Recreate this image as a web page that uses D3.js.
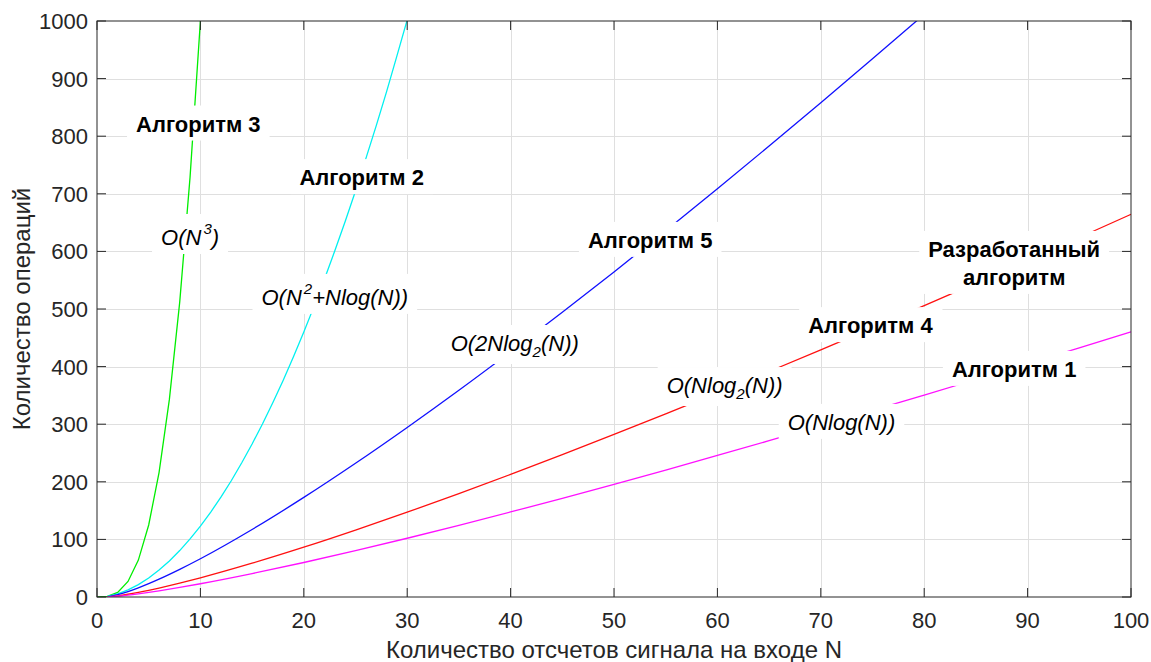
<!DOCTYPE html>
<html>
<head>
<meta charset="utf-8">
<script src="https://cdn.jsdelivr.net/npm/d3@7"></script>
<style>
  body { margin: 0; background: #fff; }
  svg { font-family: "Liberation Sans", Arial, Helvetica, sans-serif; }
</style>
</head>
<body>
<div id="chart"></div>
<script>
// values
const nCube = [0, 1, 2, 3, 4, 5, 6, 7, 8, 9, 10];
const opsCube = [0, 1, 8, 27, 64, 125, 216, 343, 512, 729, 1000];

const nSq = [1, 2, 3, 4, 5, 6, 7, 8, 9, 10, 11, 12, 13, 14, 15, 16, 17, 18, 19, 20,
  21, 22, 23, 24, 25, 26, 27, 28, 29, 30];
const opsSq = [1, 5.4, 12.3, 21.5, 33, 46.8, 62.6, 80.6, 100.8, 123, 147.4, 173.8, 202.3,
  233, 265.6, 300.4, 337.2, 376, 417, 460, 505, 552, 601, 652, 705, 761, 818, 877, 939, 1002];

const nLin = [1, 2, 3, 4, 5, 6, 8, 10, 15, 20, 25, 30, 35, 40, 45, 50, 55, 60, 65, 70,
  75, 80, 85, 90, 95, 100];
const opsAlg5 = [0, 4, 9.5, 16, 23.2, 31, 48, 66.4, 117.2, 172.9, 232.2, 294.4, 359,
  425.8, 494.3, 564.4, 636, 708.8, 782.9, 858.1, 934.4, 1011.5];
const opsAlg4 = [0, 2, 4.75, 8, 11.6, 15.5, 24, 33.2, 58.6, 86.4, 116.1, 147.2, 179.5,
  212.9, 247.1, 282.2, 318, 354.4, 391.5, 429, 467.2, 505.8, 544.8, 584.3, 624.1, 664.4];
const opsAlg1 = [0, 1.39, 3.3, 5.55, 8.05, 10.75, 16.6, 23, 40.6, 59.9, 80.5, 102, 124.4,
  147.6, 171.3, 195.6, 220.4, 245.7, 271.3, 297.4, 323.8, 350.6, 377.6, 405, 432.6, 460.5];

const xTicks = [0, 10, 20, 30, 40, 50, 60, 70, 80, 90, 100];
const yTicks = [0, 100, 200, 300, 400, 500, 600, 700, 800, 900, 1000];

const series = [
  {name: "Алгоритм 3", xs: nCube, ys: opsCube, color: "#00ee00", curve: d3.curveLinear},
  {name: "Алгоритм 2", xs: nSq, ys: opsSq, color: "#00f0f0", curve: d3.curveLinear},
  {name: "Алгоритм 5", xs: nLin.slice(0, opsAlg5.length), ys: opsAlg5, color: "#1010ff", curve: d3.curveMonotoneX},
  {name: "Алгоритм 4", xs: nLin, ys: opsAlg4, color: "#ff1010", curve: d3.curveMonotoneX},
  {name: "Алгоритм 1", xs: nLin, ys: opsAlg1, color: "#ff10ff", curve: d3.curveMonotoneX}
];

// annotations: [text, mode] pieces, anchored at data coords
const notes = [
  {x: 9.8, y: 822, bold: true, lines: [[["Алгоритм 3", ""]]]},
  {x: 9.0, y: 625, bold: false, lines: [[["O(N", ""], ["3", "sup"], [")", ""]]]},
  {x: 25.6, y: 729, bold: true, lines: [[["Алгоритм 2", ""]]]},
  {x: 23.0, y: 521, bold: false, lines: [[["O(N", ""], ["2", "sup"], ["+Nlog(N))", ""]]]},
  {x: 53.5, y: 620, bold: true, lines: [[["Алгоритм 5", ""]]]},
  {x: 40.4, y: 441, bold: false, lines: [[["O(2Nlog", ""], ["2", "sub"], ["(N))", ""]]]},
  {x: 88.7, y: 580, bold: true, lines: [[["Разработанный", ""]], [["алгоритм", ""]]]},
  {x: 74.8, y: 472, bold: true, lines: [[["Алгоритм 4", ""]]]},
  {x: 60.7, y: 368, bold: false, lines: [[["O(Nlog", ""], ["2", "sub"], ["(N))", ""]]]},
  {x: 88.7, y: 396, bold: true, lines: [[["Алгоритм 1", ""]]]},
  {x: 72.0, y: 304, bold: false, lines: [[["O(Nlog(N))", ""]]]}
];

const width = 1151, height = 662;
const margin = {top: 21, right: 20, bottom: 65, left: 97};
const axisColor = "#262626";

const svg = d3.select("#chart").append("svg")
  .attr("width", width)
  .attr("height", height);

const x = d3.scaleLinear().domain([0, 100]).range([margin.left, width - margin.right]);
const y = d3.scaleLinear().domain([0, 1000]).range([height - margin.bottom, margin.top]);

svg.append("clipPath").attr("id", "plotclip")
  .append("rect")
  .attr("x", x(0)).attr("y", y(1000))
  .attr("width", x(100) - x(0)).attr("height", y(0) - y(1000));

// grid
const grid = svg.append("g").attr("stroke", "#dfdfdf").attr("stroke-width", 1);
grid.selectAll("line.vx")
  .data(xTicks.slice(1, -1))
  .join("line")
  .attr("x1", d => Math.round(x(d)) + 0.5).attr("x2", d => Math.round(x(d)) + 0.5)
  .attr("y1", y(1000)).attr("y2", y(0));
grid.selectAll("line.hy")
  .data(yTicks.slice(1, -1))
  .join("line")
  .attr("y1", d => Math.round(y(d)) + 0.5).attr("y2", d => Math.round(y(d)) + 0.5)
  .attr("x1", x(0)).attr("x2", x(100));

// curves
svg.append("g")
  .attr("clip-path", "url(#plotclip)")
  .selectAll("path")
  .data(series)
  .join("path")
  .attr("fill", "none")
  .attr("stroke", d => d.color)
  .attr("stroke-width", 1.3)
  .attr("d", d => d3.line()
    .x(p => x(p[0]))
    .y(p => y(p[1]))
    .curve(d.curve)(d.xs.map((v, i) => [v, d.ys[i]])));

// text boxes with white background
const fs = 22;
const noteG = svg.append("g");
notes.forEach(n => {
  const g = noteG.append("g");
  const lineH = 28;
  const t = g.append("text")
    .attr("text-anchor", "middle")
    .attr("font-size", fs)
    .attr("font-weight", n.bold ? "bold" : "normal")
    .attr("font-style", n.bold ? "normal" : "italic")
    .attr("fill", "#000");
  const y0 = y(n.y) + 8 - (n.lines.length - 1) * lineH / 2;
  n.lines.forEach((parts, li) => {
    const row = t.append("tspan")
      .attr("x", x(n.x))
      .attr("y", y0 + li * lineH);
    let shift = 0;
    parts.forEach(p => {
      const s = row.append("tspan").text(p[0]);
      if (p[1] === "sup") { s.attr("font-size", 15).attr("dy", -11).attr("dx", 2); shift = 11; }
      else if (p[1] === "sub") { s.attr("font-size", 15).attr("dy", 6); shift = -6; }
      else if (shift) { s.attr("dy", shift); shift = 0; }
    });
  });
  const bb = t.node().getBBox();
  g.insert("rect", "text")
    .attr("x", bb.x - 9).attr("y", bb.y - 6)
    .attr("width", bb.width + 18).attr("height", bb.height + 10)
    .attr("fill", "#fff");
});

// box with inward ticks on all four sides
const frame = svg.append("g").attr("stroke", axisColor).attr("stroke-width", 1).attr("fill", "none");
frame.append("rect")
  .attr("x", x(0)).attr("y", y(1000))
  .attr("width", x(100) - x(0)).attr("height", y(0) - y(1000));
const tl = 9;
xTicks.forEach(v => {
  frame.append("line").attr("x1", x(v)).attr("x2", x(v)).attr("y1", y(0)).attr("y2", y(0) - tl);
  frame.append("line").attr("x1", x(v)).attr("x2", x(v)).attr("y1", y(1000)).attr("y2", y(1000) + tl);
});
yTicks.forEach(v => {
  frame.append("line").attr("y1", y(v)).attr("y2", y(v)).attr("x1", x(0)).attr("x2", x(0) + tl);
  frame.append("line").attr("y1", y(v)).attr("y2", y(v)).attr("x1", x(100)).attr("x2", x(100) - tl);
});

// tick labels
svg.append("g")
  .attr("font-size", 22).attr("fill", axisColor).attr("text-anchor", "middle")
  .selectAll("text").data(xTicks).join("text")
  .attr("x", d => x(d)).attr("y", y(0) + 31)
  .text(d => d);
svg.append("g")
  .attr("font-size", 22).attr("fill", axisColor).attr("text-anchor", "end")
  .selectAll("text").data(yTicks).join("text")
  .attr("x", x(0) - 9).attr("y", d => y(d) + 8)
  .text(d => d);

// axis titles
svg.append("text")
  .attr("x", (x(0) + x(100)) / 2).attr("y", 658)
  .attr("text-anchor", "middle").attr("font-size", 24).attr("fill", axisColor)
  .text("Количество отсчетов сигнала на входе N");
svg.append("text")
  .attr("transform", `translate(30,${(y(0) + y(1000)) / 2}) rotate(-90)`)
  .attr("text-anchor", "middle").attr("font-size", 24).attr("fill", axisColor)
  .text("Количество операций");
</script>
</body>
</html>
